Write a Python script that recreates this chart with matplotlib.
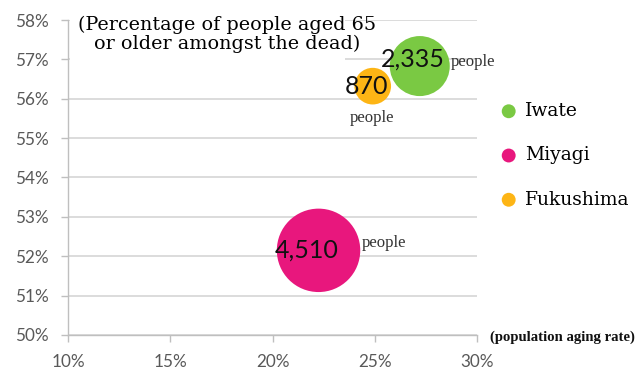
import matplotlib
matplotlib.use("Agg")
import matplotlib.pyplot as plt
from matplotlib.patches import Rectangle
from matplotlib.ticker import FuncFormatter

# Prefectures, aging rate (x, %), share of 65+ among the dead (y, %), deaths
prefectures = ["Iwate", "Miyagi", "Fukushima"]
aging_rate = [27.2, 22.25, 24.9]
elderly_share = [56.83, 52.15, 56.32]
deaths = [2335, 4510, 870]
colors = ["#7AC943", "#E8177D", "#FDB515"]

x_ticks = [10, 15, 20, 25, 30]
y_ticks = [50, 51, 52, 53, 54, 55, 56, 57, 58]

serif_wide = "DejaVu Serif"
serif = "Liberation Serif"
sans = "Lato"

fig = plt.figure(figsize=(6.42, 3.67), dpi=100)
ax = fig.add_axes([0.106, 0.0872, 0.637, 0.8583])

ax.set_xlim(10, 30)
ax.set_ylim(50, 58)
ax.set_xticks(x_ticks)
ax.set_yticks(y_ticks)
pct = FuncFormatter(lambda v, _: f"{v:.0f}%")
ax.xaxis.set_major_formatter(pct)
ax.yaxis.set_major_formatter(pct)
ax.grid(axis="y", color="#D9D9D9", linewidth=1.3, zorder=0)
ax.set_axisbelow(True)
for side in ["top", "right"]:
    ax.spines[side].set_visible(False)
for side in ["left", "bottom"]:
    ax.spines[side].set_color("#BFBFBF")
    ax.spines[side].set_linewidth(1.0)
ax.tick_params(axis="both", colors="#BFBFBF", labelcolor="#595959",
               labelsize=12.3, length=5, width=1.0)
for lab in ax.get_xticklabels() + ax.get_yticklabels():
    lab.set_fontfamily(sans)
ax.tick_params(axis="x", pad=9)
ax.tick_params(axis="y", pad=9)

# bubbles, area proportional to number of deaths
sizes = [d * 0.8 for d in deaths]
for name, x, y, s, c in zip(prefectures, aging_rate, elderly_share, sizes, colors):
    ax.scatter([x], [y], s=s, color=c, edgecolors="none", zorder=3, label=name)

# death counts on the bubbles
count_offsets = [(-0.34, 0.17), (-0.6, 0.0), (-0.3, 0.0)]
for x, y, d, (dx, dy) in zip(aging_rate, elderly_share, deaths, count_offsets):
    ax.text(x + dx, y + dy, f"{d:,}", fontsize=18, family=sans,
            color="#111111", ha="center", va="center", zorder=4)

# "people" unit labels
people_pos = [(28.73, 56.93, "left"), (24.87, 55.51, "center"), (24.38, 52.34, "left")]
for px, py, ha in people_pos:
    ax.text(px, py, "people", fontsize=12, family=serif, color="#333333",
            ha=ha, va="center", zorder=4)

# title box over the top-left of the plot area
ax.add_patch(Rectangle((10.08, 56.8), 13.45, 1.4, facecolor="white",
                       edgecolor="none", zorder=2, clip_on=False))
ax.text(17.8, 58.1, "(Percentage of people aged 65\nor older amongst the dead)",
        fontsize=13.8, family=serif_wide, color="#000000", ha="center", va="top",
        multialignment="center", linespacing=1.0, zorder=4)

# x-axis caption
fig.text(0.763, 0.082, "(population aging rate)", fontsize=10.6, family=serif,
         fontweight="bold", color="#111111", ha="left", va="center")

# legend
leg = fig.legend(loc="upper left", bbox_to_anchor=(0.769, 0.742), frameon=False,
                 prop={"family": serif_wide, "size": 13.5}, labelspacing=1.4,
                 handlelength=0.8, handletextpad=0.45, borderaxespad=0)
for h in leg.legend_handles:
    h.set_sizes([100])

fig.savefig("out.png", dpi=100)
